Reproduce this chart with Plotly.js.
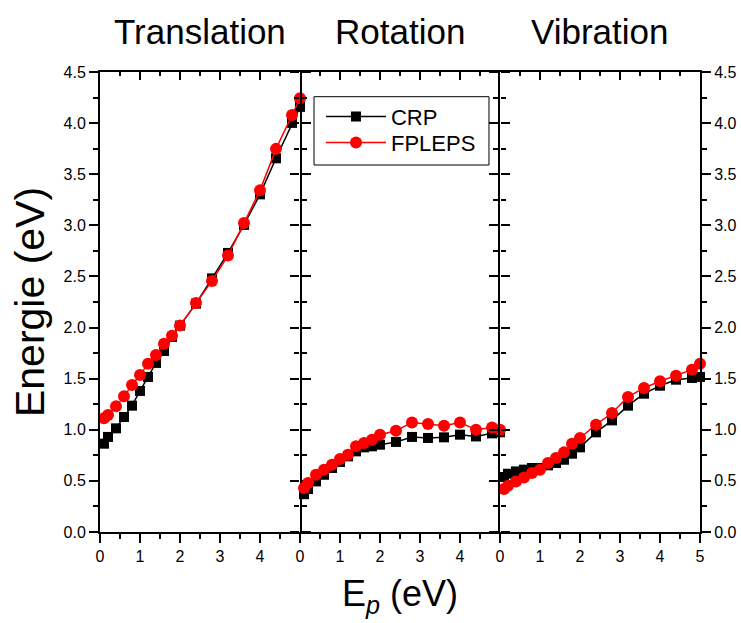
<!DOCTYPE html>
<html>
<head>
<meta charset="utf-8">
<script src="https://cdn.plot.ly/plotly-3.0.1.min.js"></script>
<style>html,body{margin:0;padding:0;background:#fff;}#chart{width:741px;height:623px;}</style>
</head>
<body>
<div id="chart"></div>
<script>
// Incident energy E_p (eV)
const ep = [0.1, 0.2, 0.4, 0.6, 0.8, 1.0, 1.2, 1.4, 1.6, 1.8, 2.0, 2.4, 2.8, 3.2, 3.6, 4.0, 4.4, 4.8, 5.0];

// Translation
const transCRP    = [0.864, 0.93, 1.014, 1.125, 1.236, 1.38, 1.517, 1.654, 1.771, 1.908, 2.019, 2.234, 2.481, 2.730, 3.004, 3.303, 3.656, 4.002, 4.159];
const transFPLEPS = [1.112, 1.145, 1.229, 1.327, 1.438, 1.536, 1.647, 1.732, 1.842, 1.921, 2.019, 2.241, 2.456, 2.704, 3.023, 3.342, 3.748, 4.080, 4.243];

// Rotation
const rotCRP    = [0.37, 0.42, 0.495, 0.56, 0.626, 0.685, 0.74, 0.789, 0.828, 0.838, 0.854, 0.881, 0.93, 0.92, 0.926, 0.952, 0.935, 0.965, 0.975];
const rotFPLEPS = [0.43, 0.479, 0.561, 0.61, 0.659, 0.714, 0.756, 0.838, 0.871, 0.903, 0.952, 0.991, 1.072, 1.057, 1.04, 1.072, 1.001, 1.023, 1.0];

// Vibration
const vibCRP    = [0.538, 0.57, 0.593, 0.61, 0.626, 0.626, 0.652, 0.675, 0.707, 0.766, 0.828, 0.975, 1.092, 1.236, 1.353, 1.431, 1.49, 1.507, 1.517];
const vibFPLEPS = [0.421, 0.453, 0.495, 0.534, 0.577, 0.61, 0.675, 0.724, 0.779, 0.864, 0.92, 1.05, 1.164, 1.321, 1.409, 1.474, 1.529, 1.588, 1.647];

const panelTitles = ["Translation", "Rotation", "Vibration"];
const seriesNames = ["CRP", "FPLEPS"];
const xTicksInner = [0, 1, 2, 3, 4];
const xTicksLast = [0, 1, 2, 3, 4, 5];

const FONT = "Liberation Sans, Arial, sans-serif";
const crpStyle = {line: {color: "#000000", width: 1.5}, marker: {symbol: "square", size: 10, color: "#000000"}};
const fpStyle  = {line: {color: "#ff0000", width: 1.5}, marker: {symbol: "circle", size: 12, color: "#ff0000"}};

const panels = [
  {crp: transCRP, fp: transFPLEPS, xa: "x",  ya: "y"},
  {crp: rotCRP,   fp: rotFPLEPS,   xa: "x2", ya: "y2"},
  {crp: vibCRP,   fp: vibFPLEPS,   xa: "x3", ya: "y3"}
];

const traces = [];
panels.forEach((p, i) => {
  traces.push(Object.assign({
    x: ep, y: p.crp, type: "scatter", mode: "lines+markers", name: seriesNames[0],
    xaxis: p.xa, yaxis: p.ya, showlegend: i === 0, legend: "legend", cliponaxis: false
  }, JSON.parse(JSON.stringify(crpStyle))));
});
panels.forEach((p, i) => {
  traces.push(Object.assign({
    x: ep, y: p.fp, type: "scatter", mode: "lines+markers", name: seriesNames[1],
    xaxis: p.xa, yaxis: p.ya, showlegend: i === 0, legend: "legend2", cliponaxis: false
  }, JSON.parse(JSON.stringify(fpStyle))));
});
// empty traces for top (inward tick) axes
[["x4","y"],["x5","y2"],["x6","y3"]].forEach(a => {
  traces.push({x: [], y: [], type: "scatter", mode: "markers", xaxis: a[0], yaxis: a[1], showlegend: false, hoverinfo: "skip"});
});

const doms = [[0, 1/3], [1/3, 2/3], [2/3, 1]];

function xAxis(i, ticks) {
  return {
    domain: doms[i], range: [0, 5], anchor: ["y","y2","y3"][i],
    tickmode: "array", tickvals: ticks,
    ticks: "outside", ticklen: 9, tickwidth: 2, tickcolor: "#000",
    minor: {dtick: 0.5, tick0: 0, ticks: "outside", ticklen: 5, tickwidth: 2, tickcolor: "#000"},
    showline: true, linewidth: 2, linecolor: "#000", mirror: true,
    showgrid: false, zeroline: false,
    tickfont: {family: FONT, size: 16, color: "#000"}
  };
}
function topAxis(i) {
  return {
    domain: doms[i], range: [0, 5], overlaying: ["x","x2","x3"][i], side: "top", anchor: ["y","y2","y3"][i],
    tickmode: "linear", tick0: 0, dtick: 1,
    ticks: "inside", ticklen: 8, tickwidth: 2, tickcolor: "#000",
    minor: {dtick: 0.5, tick0: 0, ticks: "inside", ticklen: 4, tickwidth: 2, tickcolor: "#000"},
    showticklabels: false, showline: false, showgrid: false, zeroline: false
  };
}
function yAxis(i) {
  const ax = {
    range: [0, 4.5], anchor: ["x","x2","x3"][i],
    tickmode: "linear", tick0: 0, dtick: 0.5, tickformat: ".1f",
    ticks: "outside", ticklen: 9, tickwidth: 2, tickcolor: "#000",
    minor: {dtick: 0.25, tick0: 0, ticks: "outside", ticklen: 5, tickwidth: 2, tickcolor: "#000"},
    showline: true, linewidth: 2, linecolor: "#000", mirror: "ticks",
    showgrid: false, zeroline: false,
    tickfont: {family: FONT, size: 16, color: "#000"}
  };
  if (i === 1) { ax.showticklabels = false; ax.showline = false; }
  if (i === 2) ax.side = "right";
  return ax;
}

const legendBase = {
  xanchor: "left", yanchor: "middle", x: 0.3683,
  bgcolor: "rgba(0,0,0,0)", borderwidth: 0,
  font: {family: FONT, size: 22, color: "#000"},
  itemwidth: 60
};

const layout = {
  width: 741, height: 623,
  margin: {l: 100, r: 41, t: 72, b: 91, pad: 0},
  paper_bgcolor: "#fff", plot_bgcolor: "#fff",
  font: {family: FONT, color: "#000"},
  showlegend: true,
  legend: Object.assign({}, legendBase, {y: 0.9028}),
  legend2: Object.assign({}, legendBase, {y: 0.8465}),
  shapes: [{
    type: "rect", xref: "paper", yref: "paper",
    x0: 0.3567, x1: 0.6483, y0: 0.7978, y1: 0.9463,
    line: {color: "#000", width: 1}, fillcolor: "#fff", layer: "above"
  }],
  xaxis: xAxis(0, xTicksInner),
  xaxis2: Object.assign(xAxis(1, xTicksInner), {
    title: {text: "E<sub><i>p</i></sub> (eV)", font: {family: FONT, size: 36, color: "#000"}, standoff: 17}
  }),
  xaxis3: xAxis(2, xTicksLast),
  xaxis4: topAxis(0), xaxis5: topAxis(1), xaxis6: topAxis(2),
  yaxis: Object.assign(yAxis(0), {
    title: {text: "Energie (eV)", font: {family: FONT, size: 41, color: "#000"}, standoff: 6}
  }),
  yaxis2: yAxis(1),
  yaxis3: yAxis(2),
  annotations: panelTitles.map((t, i) => ({
    text: t, xref: "paper", yref: "paper",
    x: (doms[i][0] + doms[i][1]) / 2, y: 1.089, xanchor: "center", yanchor: "middle",
    showarrow: false, font: {family: FONT, size: 35, color: "#000"}
  }))
};

Plotly.newPlot("chart", traces, layout, {displayModeBar: false, staticPlot: true});
</script>
</body>
</html>
